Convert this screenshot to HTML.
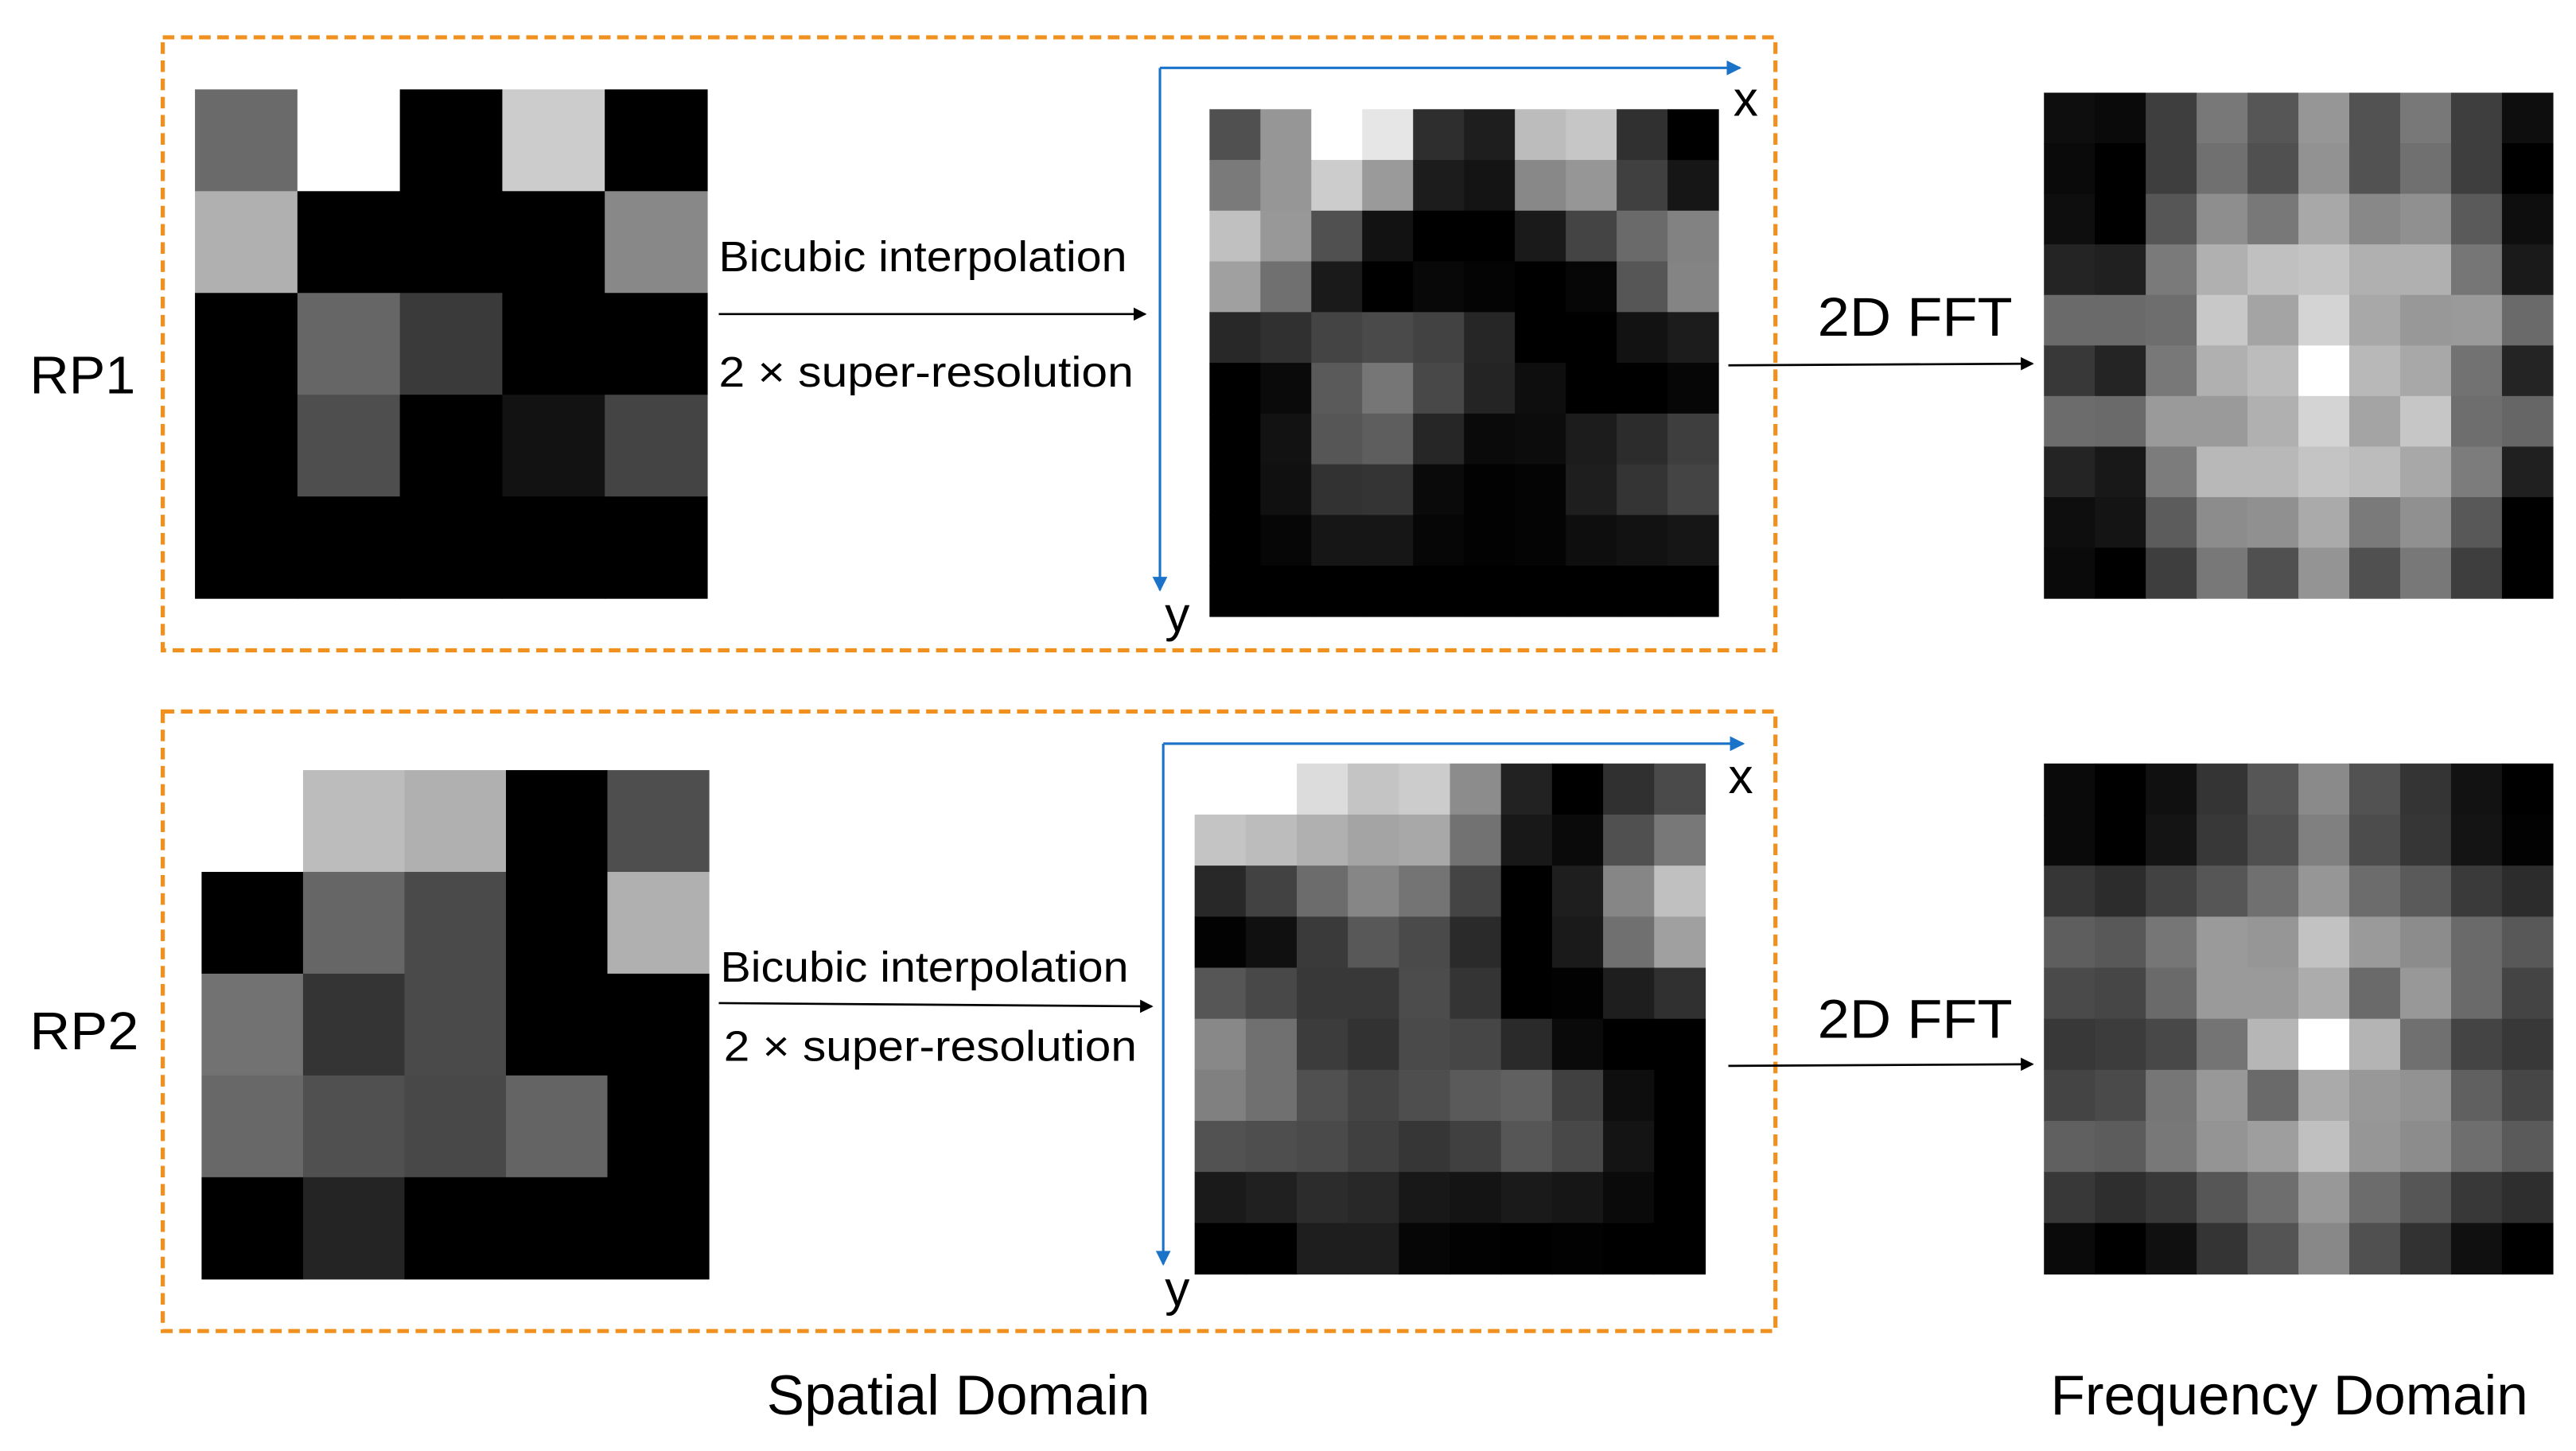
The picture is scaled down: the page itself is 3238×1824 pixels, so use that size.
<!DOCTYPE html>
<html><head><meta charset="utf-8"><style>
html,body{margin:0;padding:0;background:#fff;}
svg{display:block;}
text{font-family:"Liberation Sans",Arial,sans-serif;fill:#000;}
</style></head><body>
<svg id="s" width="3238" height="1824" viewBox="0 0 1559 878" xmlns="http://www.w3.org/2000/svg">
<defs>
<marker id="ab" markerWidth="8" markerHeight="8" refX="7" refY="4" orient="auto" markerUnits="userSpaceOnUse"><path d="M0,0 L8,4 L0,8 z" fill="#000"/></marker>
<marker id="abl" markerWidth="9" markerHeight="9" refX="8" refY="4.5" orient="auto" markerUnits="userSpaceOnUse"><path d="M0,0 L9,4.5 L0,9 z" fill="#1a73c8"/></marker>
</defs>
<g id="grids"></g>
<rect x="98.5" y="22.5" width="976" height="371" fill="none" stroke="#f0901e" stroke-width="2.5" stroke-dasharray="7,4"/>
<rect x="98.5" y="430.5" width="976" height="375" fill="none" stroke="#f0901e" stroke-width="2.5" stroke-dasharray="7,4"/>
<!-- RP1 -->
<text x="18" y="238" font-size="32" textLength="64" lengthAdjust="spacingAndGlyphs">RP1</text>
<text x="435" y="164" font-size="26" textLength="247" lengthAdjust="spacingAndGlyphs">Bicubic interpolation</text>
<line x1="435" y1="190" x2="693" y2="190" stroke="#000" stroke-width="1.3" marker-end="url(#ab)"/>
<text x="435" y="234" font-size="26" textLength="251" lengthAdjust="spacingAndGlyphs">2 × super-resolution</text>
<line x1="702" y1="41" x2="1053" y2="41" stroke="#1a73c8" stroke-width="1.5" marker-end="url(#abl)"/>
<line x1="702" y1="41" x2="702" y2="357" stroke="#1a73c8" stroke-width="1.5" marker-end="url(#abl)"/>
<text x="1049" y="70" font-size="30">x</text>
<text x="705" y="382" font-size="30">y</text>
<text x="1100" y="203" font-size="33" textLength="118" lengthAdjust="spacingAndGlyphs">2D FFT</text>
<line x1="1046" y1="221" x2="1230" y2="220" stroke="#000" stroke-width="1.3" marker-end="url(#ab)"/>
<!-- RP2 -->
<text x="18" y="635" font-size="32" textLength="66" lengthAdjust="spacingAndGlyphs">RP2</text>
<text x="436" y="594" font-size="26" textLength="247" lengthAdjust="spacingAndGlyphs">Bicubic interpolation</text>
<line x1="435" y1="607" x2="697" y2="609" stroke="#000" stroke-width="1.3" marker-end="url(#ab)"/>
<text x="438" y="642" font-size="26" textLength="250" lengthAdjust="spacingAndGlyphs">2 × super-resolution</text>
<line x1="704" y1="450" x2="1055" y2="450" stroke="#1a73c8" stroke-width="1.5" marker-end="url(#abl)"/>
<line x1="704" y1="450" x2="704" y2="765" stroke="#1a73c8" stroke-width="1.5" marker-end="url(#abl)"/>
<text x="1046" y="480" font-size="30">x</text>
<text x="705" y="790" font-size="30">y</text>
<text x="1100" y="628" font-size="33" textLength="118" lengthAdjust="spacingAndGlyphs">2D FFT</text>
<line x1="1046" y1="645" x2="1230" y2="644" stroke="#000" stroke-width="1.3" marker-end="url(#ab)"/>
<text x="464" y="856" font-size="34" textLength="232" lengthAdjust="spacingAndGlyphs">Spatial Domain</text>
<text x="1241" y="856" font-size="34" textLength="289" lengthAdjust="spacingAndGlyphs">Frequency Domain</text>
</svg>
<script>
var G=document.getElementById('grids'),NS='http://www.w3.org/2000/svg';
function g2(x0,y0,w,h,data){
 var rows=data.length;
 for(var r=0;r<rows;r++){var row=data[r].trim().split(/\s+/);var cols=row.length;
  for(var c=0;c<cols;c++){var v=row[c];var e=document.createElementNS(NS,'rect');
   var cw=w/cols,ch=h/rows;
   e.setAttribute('x',x0+c*cw);e.setAttribute('y',y0+r*ch);
   e.setAttribute('width',cw+0.3);e.setAttribute('height',ch+0.3);
   e.setAttribute('fill','#'+v+v+v);G.appendChild(e);}}}
g2(118,54,310,308,["6a ff 00 cc 00","b0 00 00 00 88","00 66 3a 00 00","00 4e 00 12 44","00 00 00 00 00"]);
g2(732,66,308,307,["50 96 ff e6 2e 1e bc c6 30 00","7a 96 cc 9a 1c 14 88 96 40 16","c0 98 50 12 00 00 1a 44 6a 82","a0 70 1a 00 08 04 00 06 56 84","28 30 44 4a 42 26 00 00 12 1c","00 0a 5a 76 48 24 0e 00 00 06","00 12 56 5e 26 0a 0c 1c 2c 3e","00 10 32 34 0a 02 04 1e 34 44","00 06 16 16 06 02 04 0e 12 16","00 00 00 00 00 00 00 00 00 00"]);
g2(1237,56,308,306,["0e 0a 3e 78 56 96 52 78 3e 0e","0a 00 3e 70 50 92 52 70 3e 00","0e 00 56 8e 78 a8 88 90 5a 0e","24 20 7a b0 c0 c4 b0 b0 76 1a","6a 6a 6e c8 a4 d4 a8 98 9a 6a","38 24 78 b0 bc ff b8 a8 72 24","6c 6a 9a 9a b0 d4 a4 c6 6e 66","24 18 7c b8 b8 c4 bc a8 7c 20","0e 14 5c 8c 90 aa 7a 90 58 00","0a 00 3e 78 50 94 50 78 3e 00"]);
g2(122,466,307,308,["ff bc b0 00 4e","00 66 4a 00 b0","72 34 4a 00 00","68 50 48 64 00","00 24 00 00 00"]);
g2(723,462,309,309,["ff ff dc c4 cc 8c 22 00 30 4a","c4 bc b0 a4 a8 72 18 0a 50 78","28 42 6c 86 74 44 00 1e 86 c0","02 10 3a 58 4a 2a 00 1a 70 a0","56 48 38 38 4c 34 00 02 1e 30","88 70 3c 32 4a 46 2a 0a 00 00","80 70 50 44 4e 5a 60 40 0e 00","52 4e 4a 40 36 40 56 48 14 00","1a 20 2c 28 18 14 1a 16 0a 00","00 00 1e 1e 06 02 00 02 00 00"]);
g2(1237,462,308,309,["0a 00 10 34 56 8a 52 34 12 00","0a 00 14 38 50 80 4c 36 14 02","36 2c 42 56 70 96 6c 5a 3a 2c","5e 58 76 9a 96 c2 9a 8c 6a 58","4a 46 6a 9a 9a ac 6a 98 6a 44","38 3c 48 74 b6 ff b4 70 44 38","44 4a 76 98 6a aa 98 92 60 46","60 5c 78 94 9e c0 96 8c 6e 5a","38 2e 38 56 6e 98 6c 56 38 2e","0a 00 10 34 54 88 50 32 10 00"]);
</script>
</body></html>
